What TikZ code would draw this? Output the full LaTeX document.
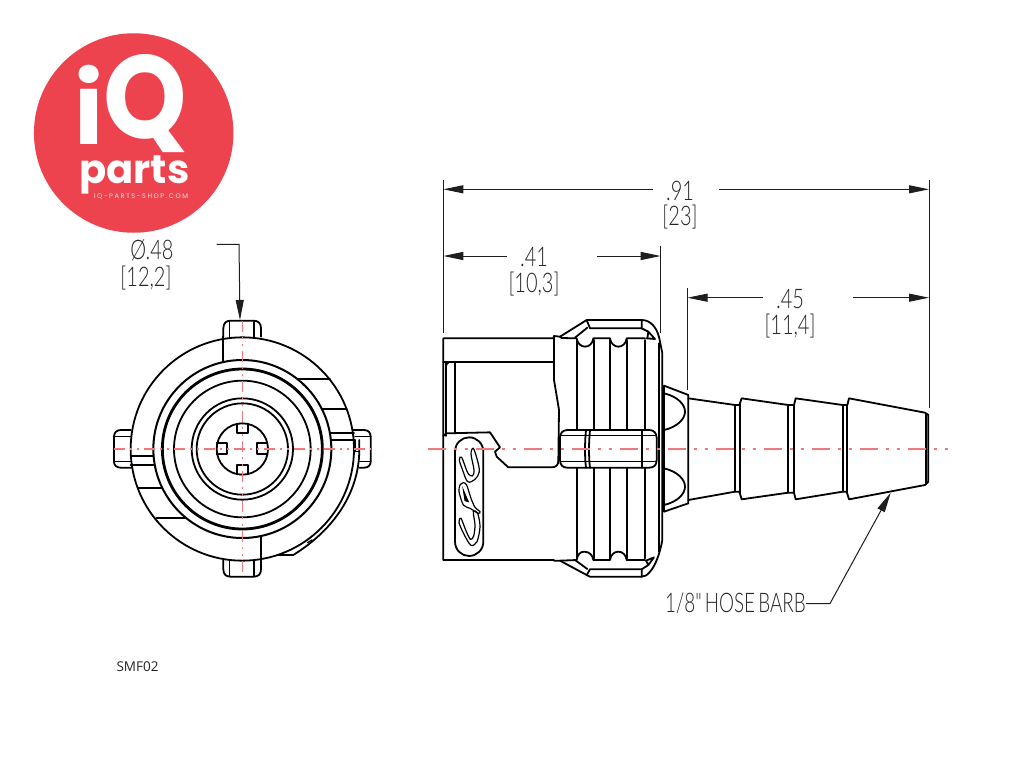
\documentclass[tikz,border=0pt]{standalone}
\usepackage{fontspec}
\usetikzlibrary{arrows.meta}
\setmainfont{Liberation Sans}
\newfontfamily\cadfont[FakeStretch=0.74]{Lato Light}
\newfontfamily\cadnarrow[FakeStretch=0.70,WordSpace=0.6]{Lato Light}
\newfontfamily\popfont{Poppins}
\newfontfamily\urlfont[LetterSpace=24]{Poppins}
\newfontfamily\tagfont{Open Sans}
\definecolor{logored}{HTML}{EC434E}
\definecolor{axisred}{HTML}{F4777A}
\definecolor{dimgrey}{HTML}{1E1E1E}
\tikzset{
  outl/.style={line width=1.8pt,black,line join=round,line cap=round},
  thk/.style={line width=2.2pt,black},
  thn/.style={line width=1.2pt,black,line cap=round},
  axisv/.style={axisred,line width=1.2pt,dash pattern=on 11pt off 5pt on 2pt off 5pt on 2pt off 5pt},
  axisside/.style={axisred,line width=1.3pt,dash pattern=on 18pt off 8pt on 3pt off 8pt on 3pt off 8pt},
  dimline/.style={line width=1pt,dimgrey,-{Triangle[length=20pt,width=8pt]}},
  leader/.style={line width=1pt,dimgrey},
  extline/.style={line width=1pt,dimgrey},
  cad/.style={font=\cadfont\fontsize{27}{27}\selectfont,text=black!85,inner sep=0pt,align=center},
  logotext/.style={text=white,inner sep=0pt},
}
\begin{document}
\begin{tikzpicture}[x=1pt,y=-1pt]
\useasboundingbox (0,0) rectangle (1024,768);
\fill[white] (0,0) rectangle (1024,768);
% logo
\node[circle,fill=logored,minimum size=199.5pt,inner sep=0pt] (logo) at (133.7,133) {};
\node[logotext,font=\popfont\bfseries,anchor=base west] (iq) at (74,144.5) {\fontsize{99}{99}\selectfont i\kern0.5pt\fontsize{118}{118}\selectfont\raisebox{6pt}{\scalebox{0.9}[1]{Q}}};
\node[logotext,font=\popfont\bfseries\fontsize{40}{40}\selectfont,anchor=base] (parts) at (134.5,183.5) {parts};
\node[logotext,text=white!85!logored,font=\urlfont\fontsize{6.6}{6.6}\selectfont,anchor=base] (url) at (141,198) {IQ-PARTS-SHOP.COM};
% front view
\begin{scope}[shift={(100,300)},scale=1/3]
  \draw[outl] (370,110) -- (370,85) .. controls (370,70) and (378,62) .. (392,62) -- (460,62) .. controls (475,62) and (483,70) .. (483,85) -- (483,110);
  \draw[thn] (388,62) -- (388,110) (462,62) -- (462,110);
  \draw[outl] (370,780) -- (370,808) .. controls (370,823) and (378,830) .. (392,830) -- (460,830) .. controls (475,830) and (483,823) .. (483,808) -- (483,780);
  \draw[thn] (388,780) -- (388,830) (462,780) -- (462,830);
  \draw[outl] (92,390) -- (62,390) .. controls (50,390) and (42,398) .. (42,410) -- (42,485) .. controls (42,496) and (50,503) .. (62,503) -- (95,503);
  \draw[thn] (42,410) -- (92,410) (42,485) -- (95,485);
  \draw[outl] (760,390) -- (792,390) .. controls (805,390) and (812,398) .. (812,410) -- (812,485) .. controls (812,496) and (805,503) .. (792,503) -- (778,503);
  \draw[thn] (765,410) -- (812,410) (778,485) -- (812,485);
  \draw[outl,fill=white] (427,447) circle[radius=335];
  \draw[thk,line width=2pt] (427,447) circle[radius=267];
  \draw[thk,line width=2.8pt] (427,447) circle[radius=240];
  \draw[outl] (427,447) circle[radius=205];
  \draw[outl] (427,447) circle[radius=152];
  \draw[outl] (427,447) circle[radius=137];
  \draw[outl] (427,447) circle[radius=77];
  \draw[outl] (410,372) -- (410,400) -- (443,400) -- (443,372);
  \draw[outl] (410,522) -- (410,494) -- (443,494) -- (443,522);
  \draw[outl] (350,430) -- (380,430) -- (380,462) -- (350,462);
  \draw[outl] (500,430) -- (472,430) -- (472,462) -- (500,462);
  \draw[outl] (370,110) -- (370,185);
  \draw[outl] (483,710) -- (483,780);
  \draw[outl] (595,238) -- (690,238);
  \draw[outl] (665,328) -- (740,328);
  \draw[outl] (692,398) -- (762,398);
  \draw[outl] (692,420) -- (765,420);
  \draw[outl] (92,468) -- (160,468);
  \draw[outl] (92,495) -- (160,495);
  \draw[outl] (115,565) -- (185,565);
  \draw[outl] (170,655) -- (255,655);
  \draw[thn] (765,420) -- (765,455) -- (778,455);
  \draw[outl] (778,420) -- (778,447) .. controls (778,580) and (700,690) .. (580,765) -- (535,765);
  \draw[thn] (622,728) -- (636,720);
  \draw[axisv] (42,447) -- (812,447);
  \draw[axisv] (427,62) -- (427,830);
\end{scope}
% side view body
\begin{scope}[shift={(430,310)},scale=1/3]
  \draw[outl] (40,85) -- (370,85) -- (372,78) -- (390,80) -- (470,30) -- (635,30) .. controls (660,30) and (680,50) .. (688,85) -- (697,130) -- (697,690) .. controls (690,730) and (675,770) .. (660,785) .. controls (652,795) and (645,800) .. (635,800) -- (480,800) -- (470,795) -- (390,752) -- (372,752) -- (372,750) -- (40,750) -- cycle;
  \draw[outl] (40,155) -- (370,155);
  \draw[outl] (48,378) -- (48,155);
  \draw[outl] (75,155) -- (75,370);
  \draw[thn] (48,170) .. controls (50,160) and (58,155) .. (68,155);
  \draw[outl] (40,378) -- (48,370) -- (180,367) -- (210,412) -- (195,425) -- (200,440) -- (235,472) -- (365,472) .. controls (378,472) and (385,465) .. (385,452) -- (387,300) -- (372,210) -- (372,78);
  % grip lines
  \foreach \gx in {442,493,540,590,645}{
    \draw[outl] (\gx,90) -- (\gx,360);
    \draw[outl] (\gx,473) -- (\gx,745);
  }
  \draw[outl] (390,80) -- (395,84) -- (440,85) .. controls (442,100) and (453,110) .. (465,110) .. controls (478,110) and (488,100) .. (490,85) -- (540,85) .. controls (542,100) and (553,110) .. (565,110) .. controls (578,110) and (588,100) .. (590,85) -- (645,85);
  \draw[outl] (390,752) -- (440,750) .. controls (442,735) and (450,725) .. (462,725) .. controls (478,725) and (488,735) .. (490,750) -- (540,750) .. controls (542,735) and (552,725) .. (565,725) .. controls (578,725) and (588,735) .. (590,750) -- (645,750);
  \draw[outl] (470,30) -- (480,55) -- (635,55) -- (635,30);
  \draw[outl] (435,83) -- (472,53);
  \draw[outl] (635,55) -- (655,65) -- (675,87) -- (650,85) (655,65) -- (652,85);
  \draw[outl] (470,795) -- (480,778) -- (635,778) -- (635,800);
  \draw[outl] (435,750) -- (472,777);
  \draw[outl] (635,778) -- (655,765) -- (672,742) -- (648,752) -- (655,765);
  % side tab
  \draw[outl,fill=white] (412,360) -- (658,360) .. controls (672,360) and (680,370) .. (680,383) -- (680,450) .. controls (680,465) and (672,473) .. (658,473) -- (412,473) .. controls (398,473) and (390,465) .. (390,450) -- (390,383) .. controls (390,370) and (398,360) .. (412,360) -- cycle;
  \draw[thn] (394,377) -- (678,377) (394,455) -- (678,455);
  \draw[outl] (468,360) .. controls (464,400) and (464,440) .. (468,473);
  \draw[outl] (480,360) .. controls (476,400) and (476,440) .. (480,473);
  \draw[outl] (637,360) -- (637,473);
  \draw[outl] (686,100) -- (686,725);
  % CPC badge
  \draw[outl] (75,425) .. controls (75,400) and (95,382) .. (117,382) .. controls (140,382) and (160,400) .. (160,425) -- (160,695) .. controls (160,720) and (140,738) .. (117,738) .. controls (95,738) and (75,720) .. (75,695) -- cycle;
\end{scope}
% CPC script
\begin{scope}[shift={(445,430)},scale=1/3]
  \draw[thn] plot[smooth cycle,tension=0.55] coordinates {(85,55) (97,90) (103,125) (90,148) (68,155) (52,118) (43,90) (50,82) (68,128) (82,138) (87,120) (78,72)};
  \draw[thn] plot[smooth cycle,tension=0.45] coordinates {(45,165) (55,158) (65,165) (78,205) (90,232) (105,245) (100,250) (75,235) (55,225) (42,185)};
  \draw[line width=1pt,fill=black] (55,180) -- (70,215) -- (60,212) -- cycle;
  \draw[thn] plot[smooth cycle,tension=0.5] coordinates {(98,250) (105,290) (96,335) (78,346) (58,315) (42,278) (48,265) (62,300) (76,328) (86,318) (90,285) (85,245)};
\end{scope}
% flange and barb
\begin{scope}[shift={(650,370)},scale=1/3]
  \draw[outl] (42,47) -- (115,75) -- (115,400) -- (42,425) -- cycle;
  \draw[outl] (42,70) .. controls (85,80) and (105,105) .. (105,125) .. controls (105,145) and (85,170) .. (42,180);
  \draw[outl] (42,295) .. controls (85,305) and (105,330) .. (105,350) .. controls (105,370) and (85,395) .. (42,405);
  \draw[outl] (115,85) -- (255,105) -- (268,105) -- (275,85) -- (415,105) -- (432,105) -- (437,85) -- (578,105) -- (592,105) -- (597,85) -- (825,128) -- (835,135) -- (835,335) -- (825,345) -- (597,388) -- (590,365) -- (578,365) -- (437,388) -- (432,368) -- (415,368) -- (275,388) -- (268,365) -- (255,365) -- (115,390);
  \draw[outl] (255,105) -- (255,365) (270,100) -- (270,370);
  \draw[outl] (415,105) -- (415,368) (432,105) -- (432,368);
  \draw[outl] (578,105) -- (578,365) (592,105) -- (592,365);
  \draw[thk] (827,130) -- (827,343);
\end{scope}
% centre line of the side view
\coordinate (axl) at (428,449);
\coordinate (axr) at (948,449);
\draw[axisside] (axl) -- (axr);
% extension lines
\coordinate (e1a) at (443.3,180); \coordinate (e1b) at (443.3,333);
\coordinate (e2a) at (929,180);   \coordinate (e2b) at (929,408);
\coordinate (e3a) at (660.7,246); \coordinate (e3b) at (660.7,333);
\coordinate (e4a) at (687.5,288); \coordinate (e4b) at (687.5,390);
\draw[extline] (e1a) -- (e1b);
\draw[extline] (e2a) -- (e2b);
\draw[extline] (e3a) -- (e3b);
\draw[extline] (e4a) -- (e4b);
% dimensions
\node[cad] (d91) at (680,191) {.91};
\node[cad] (d23) at (680,217.5) {[23]};
\coordinate (d1l) at (443.3,189.3); \coordinate (d1r) at (929,189.3);
\coordinate (d1m) at (653,189.3);   \coordinate (d1n) at (719,189.3);
\draw[dimline] (d1m) -- (d1l);
\draw[dimline] (d1n) -- (d1r);
\node[cad] (d41) at (534,257) {.41};
\node[cad] (d103) at (534,284.5) {[10,3]};
\coordinate (d2l) at (443.3,256); \coordinate (d2r) at (660.7,256);
\coordinate (d2m) at (506.7,256); \coordinate (d2n) at (597,256);
\draw[dimline] (d2m) -- (d2l);
\draw[dimline] (d2n) -- (d2r);
\node[cad] (d45) at (790,299) {.45};
\node[cad] (d114) at (790,326.5) {[11,4]};
\coordinate (d3l) at (687.5,297.7); \coordinate (d3r) at (929,297.7);
\coordinate (d3m) at (763,297.7);   \coordinate (d3n) at (853,297.7);
\draw[dimline] (d3m) -- (d3l);
\draw[dimline] (d3n) -- (d3r);
% diameter
\node[cad] (d48) at (152,250.5) {Ø.48};
\node[cad] (d122) at (146,278) {[12,2]};
\coordinate (l1a) at (216.7,244.3); \coordinate (l1b) at (239,244.3); \coordinate (l1c) at (240,320);
\draw[leader,-{Triangle[length=20pt,width=8pt]}] (l1a) -- (l1b) -- (l1c);
% hose barb
\node[cad,font=\cadnarrow\fontsize{27}{27}\selectfont,anchor=west] (barb) at (665,603.5) {1/8" HOSE BARB};
\coordinate (l2a) at (barb.east); \coordinate (l2b) at (830,603.5); \coordinate (l2c) at (890.7,492.7);
\draw[leader,-{Triangle[length=20pt,width=8pt]}] (l2a) -- (l2b) -- (l2c);
% tag
\node[font=\tagfont\fontsize{13.5}{13.5}\selectfont,inner sep=0pt,text=black!85] (tag) at (137.5,666.5) {SMF02};
\end{tikzpicture}
\end{document}
